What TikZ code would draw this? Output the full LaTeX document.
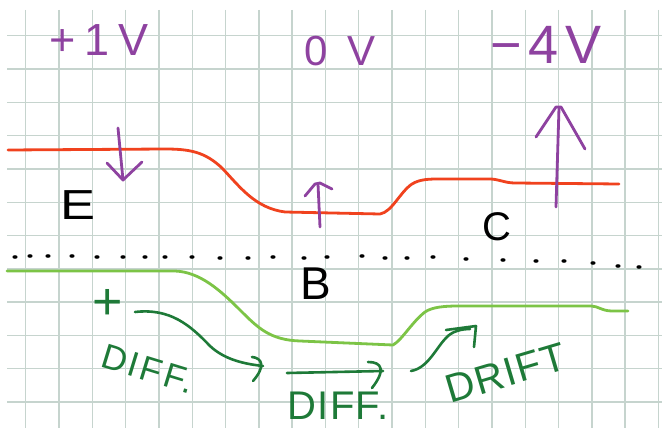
\documentclass[tikz,border=0pt]{standalone}
\usepackage{fontspec}
\setsansfont{Liberation Sans}
\definecolor{gridc}{RGB}{198,212,206}
\definecolor{pen}{RGB}{142,66,160}
\definecolor{redband}{RGB}{240,66,30}
\definecolor{lgreen}{RGB}{124,196,70}
\definecolor{dgreen}{RGB}{30,122,56}
\tikzset{
  gridline/.style={draw=gridc,line width=1.4pt},
  band/.style={line width=2.8pt,line cap=round,line join=round},
  pstroke/.style={draw=pen,line width=2.8pt,line cap=round,line join=round},
  gstroke/.style={draw=dgreen,line width=2.6pt,line cap=round,line join=round},
  hand/.style={font=\sffamily,inner sep=0pt},
  dotmark/.style={fill=black,draw=none}
}
\begin{document}
\begin{tikzpicture}[x=1pt,y=-1pt]
\useasboundingbox[fill=white] (0,0) rectangle (662,428);
% grid
\foreach \i in {0,...,19} \draw[gridline] ({25.7+33.3*\i},10) -- ({25.7+33.3*\i},428);
\foreach \j in {0,...,11} \draw[gridline] (7,{35.7+33.3*\j}) -- (662,{35.7+33.3*\j});
% conduction band (red)
\draw[band,redband] (8,150) -- (165,149) .. controls (190,149) and (205,152) .. (222,168)
  .. controls (240,187) and (255,208) .. (285,212) -- (380,214)
  .. controls (392,212) and (400,192) .. (412,184) .. controls (420,179) and (430,179) .. (440,179)
  -- (490,179) .. controls (498,179) and (505,183) .. (515,183) -- (619,184);
% valence band (light green)
\draw[band,lgreen] (7,271) -- (175,271) .. controls (200,272) and (220,290) .. (240,310)
  .. controls (258,328) and (270,340) .. (300,341) -- (393,345)
  .. controls (402,340) and (412,322) .. (425,312) .. controls (432,307) and (445,306) .. (458,306)
  -- (591,306) .. controls (598,306) and (602,311) .. (612,311) -- (628,311);
% dotted Fermi level
\foreach \p in {(15,257),(30,256),(48,256),(72,256),(97,257),(123,257),(145,257),(165,257),(192,257),(220,258),(248,258),(273,257),(304,258),(327,257),(362,256),(385,258),(407,258),(433,257),(466,259),(503,260),(536,261),(564,261),(593,263),(618,266),(639,267)}
  \fill[dotmark] \p ellipse [x radius=2.6pt, y radius=1.8pt];
% texts
\node[hand,text=pen,font=\sffamily\fontsize{45}{45}\selectfont\addfontfeature{LetterSpace=19}] (vE) at (99,40) {+1V};
\node[hand,text=pen,font=\sffamily\fontsize{42}{42}\selectfont\addfontfeature{LetterSpace=45}] (vB) at (340,51) {0V};
\node[hand,text=pen,font=\sffamily\fontsize{54}{54}\selectfont\addfontfeature{LetterSpace=12}] (vC) at (546,45) {−4V};
\node[hand,font=\sffamily\fontsize{42}{42}\selectfont,xscale=1.25] (E) at (78,205) {E};
\node[hand,font=\sffamily\fontsize{46}{46}\selectfont] (B) at (316,284) {B};
\node[hand,font=\sffamily\fontsize{40}{40}\selectfont] (C) at (497,227) {C};
\node[hand,text=dgreen,font=\sffamily\fontsize{52}{52}\selectfont] (plus) at (108,304) {+};
\node[hand,text=dgreen,font=\sffamily\fontsize{35}{35}\selectfont\addfontfeature{LetterSpace=8},rotate=-17] (diffa) at (148,369) {DIFF.};
\node[hand,text=dgreen,font=\sffamily\fontsize{40}{40}\selectfont\addfontfeature{LetterSpace=3}] (diffb) at (338,406) {DIFF.};
\node[hand,text=dgreen,font=\sffamily\fontsize{40}{40}\selectfont\addfontfeature{LetterSpace=4},rotate=16.5] (drift) at (506,373) {DRIFT};
% purple arrows
\draw[pstroke] (118,128) -- (123,180);
\draw[pstroke] (107,163) -- (123,180) -- (142,162);
\draw[pstroke] (320,227) -- (318,184);
\draw[pstroke] (305,196) -- (315,184) -- (320,183) -- (332,189);
\draw[pstroke] (556,207) -- (559,108);
\draw[pstroke] (536,137) -- (556,107) -- (561,107) -- (585,149);
% green arrows
\draw[gstroke] (135,312) .. controls (170,308) and (190,325) .. (210,346) .. controls (225,360) and (245,364) .. (263,366);
\draw[gstroke] (252,357) .. controls (262,358) and (266,366) .. (253,381);
\draw[gstroke] (287,373) -- (383,371);
\draw[gstroke] (368,362) .. controls (382,362) and (386,370) .. (372,388);
\draw[gstroke] (411,371) .. controls (428,368) and (436,348) .. (446,338) .. controls (452,331) and (462,329) .. (470,329);
\draw[gstroke] (446,330) -- (476,326) -- (474,347);
\end{tikzpicture}
\end{document}
